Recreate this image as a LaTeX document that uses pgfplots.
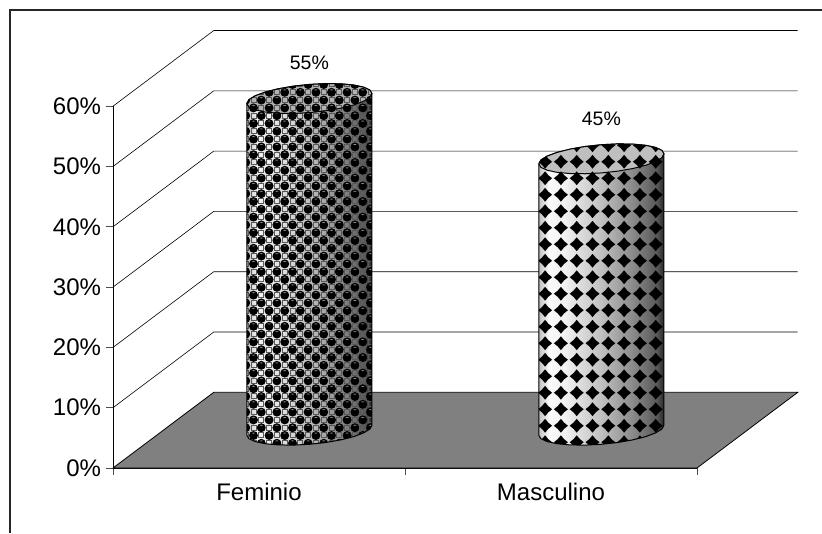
\documentclass[border=0pt]{standalone}
\usepackage{fontspec}
\setmainfont{Liberation Sans}
\usepackage{pgfplots}
\pgfplotsset{compat=1.18}
\usepackage{pgfplotstable}
\usetikzlibrary{patterns}

% Cylinder faces: horizontal lighting across the body
\pgfdeclarehorizontalshading{bodyF}{100bp}{
  color(0bp)=(black!25); color(25bp)=(black!25); color(29bp)=(black!5);
  color(35bp)=(black!8); color(50bp)=(black!25); color(62bp)=(black!45);
  color(72bp)=(black!65); color(75bp)=(black!85); color(100bp)=(black!85)}
\pgfdeclarehorizontalshading{bodyM}{100bp}{
  color(0bp)=(black!25); color(25bp)=(black!25); color(29bp)=(black!2);
  color(35bp)=(black!5); color(50bp)=(black!25); color(62bp)=(black!45);
  color(72bp)=(black!65); color(75bp)=(black!85); color(100bp)=(black!85)}

% Surface textures
\pgfdeclarepatternformonly{diamondtile}{\pgfqpoint{-0.5pt}{-0.5pt}}{\pgfqpoint{16.3pt}{17pt}}{\pgfqpoint{15.8pt}{16.5pt}}{
  \pgfpathmoveto{\pgfqpoint{0.9pt}{8.25pt}}
  \pgfpathcurveto{\pgfqpoint{3.6pt}{10pt}}{\pgfqpoint{6.2pt}{12.6pt}}{\pgfqpoint{7.9pt}{15.2pt}}
  \pgfpathcurveto{\pgfqpoint{9.6pt}{12.6pt}}{\pgfqpoint{12.2pt}{10pt}}{\pgfqpoint{14.9pt}{8.25pt}}
  \pgfpathcurveto{\pgfqpoint{12.2pt}{6.5pt}}{\pgfqpoint{9.6pt}{3.9pt}}{\pgfqpoint{7.9pt}{1.3pt}}
  \pgfpathcurveto{\pgfqpoint{6.2pt}{3.9pt}}{\pgfqpoint{3.6pt}{6.5pt}}{\pgfqpoint{0.9pt}{8.25pt}}
  \pgfpathclose\pgfusepath{fill}}
\pgfdeclarepatterninherentlycolored{balltile}{\pgfqpoint{-0.5pt}{-0.5pt}}{\pgfqpoint{16pt}{16pt}}{\pgfqpoint{15.6pt}{15.6pt}}{
  \pgfsetfillcolor{black}
  \pgfpathcircle{\pgfqpoint{3.9pt}{3.9pt}}{4.5pt}
  \pgfpathcircle{\pgfqpoint{11.7pt}{11.7pt}}{4.5pt}
  \pgfusepath{fill}
  \pgfsetfillcolor{black!45}
  \pgfpathellipse{\pgfqpoint{3.9pt}{6.3pt}}{\pgfqpoint{1.8pt}{0pt}}{\pgfqpoint{0pt}{0.55pt}}
  \pgfpathellipse{\pgfqpoint{11.7pt}{14.1pt}}{\pgfqpoint{1.8pt}{0pt}}{\pgfqpoint{0pt}{0.55pt}}
  \pgfusepath{fill}
  \pgfsetstrokecolor{black!65}
  \pgfsetlinewidth{1pt}
  \pgfpathrectangle{\pgfqpoint{9.2pt}{1.4pt}}{\pgfqpoint{5pt}{5pt}}
  \pgfpathrectangle{\pgfqpoint{1.4pt}{9.2pt}}{\pgfqpoint{5pt}{5pt}}
  \pgfusepath{stroke}}

% Unit outlines of a cylinder: dx across the axis, dy in percent, top selects base or rim
\pgfplotstableread{
dx dy top
0.2144 0.83 0
0.2071 0.196 0
0.1857 -0.451 0
0.1516 -1.068 0
0.1072 -1.611 0
0.0555 -2.045 0
0 -2.34 0
-0.0555 -2.475 0
-0.1072 -2.441 0
-0.1516 -2.241 0
-0.1857 -1.889 0
-0.2071 -1.407 0
-0.2144 -0.83 0
-0.2144 -0.83 1
-0.2071 -0.196 1
-0.1857 0.451 1
-0.1516 1.068 1
-0.1072 1.611 1
-0.0555 2.045 1
0 2.34 1
0.0555 2.475 1
0.1072 2.441 1
0.1516 2.241 1
0.1857 1.889 1
0.2071 1.407 1
0.2144 0.83 1
0.2144 0.83 0
}\cylbody
\pgfplotstableread{
dx dy
-0.2144 -0.83
-0.2071 -0.196
-0.1857 0.451
-0.1516 1.068
-0.1072 1.611
-0.0555 2.045
0 2.34
0.0555 2.475
0.1072 2.441
0.1516 2.241
0.1857 1.889
0.2071 1.407
0.2144 0.83
0.2071 0.196
0.1857 -0.451
0.1516 -1.068
0.1072 -1.611
0.0555 -2.045
0 -2.34
-0.0555 -2.475
-0.1072 -2.441
-0.1516 -2.241
-0.1857 -1.889
-0.2071 -1.407
-0.2144 -0.83
}\cylrim
\pgfplotstableread{
x d
0 0
0.345 12.55
2.345 12.55
}\wallline

% One cylinder: centre, value, body shading, texture, rim shade
\newcommand{\cylinder}[5]{
  \addplot[draw=none, shading=#3]
    table[x expr={#1+\thisrow{dx}}, y expr={6.27+\thisrow{top}*#2+\thisrow{dy}}] {\cylbody};
  \addplot[draw=none, #4]
    table[x expr={#1+\thisrow{dx}}, y expr={6.27+\thisrow{top}*#2+\thisrow{dy}}] {\cylbody};
  \addplot[draw=black, line width=1pt]
    table[x expr={#1+\thisrow{dx}}, y expr={6.27+\thisrow{top}*#2+\thisrow{dy}}] {\cylbody};
  \addplot[draw=none, fill=#5, postaction={#4}]
    table[x expr={#1+\thisrow{dx}}, y expr={6.27+#2+\thisrow{dy}}] {\cylrim};
  \addplot[draw=black, line width=1pt]
    table[x expr={#1+\thisrow{dx}}, y expr={6.27+#2+\thisrow{dy}}] {\cylrim};
}

\begin{document}
\begin{tikzpicture}
\path[use as bounding box] (-113pt,-65pt) rectangle (709pt,468pt);
\draw[black!85, line width=1.1pt] (-103pt,-65pt) -- (-103pt,458pt) -- (709pt,458pt);
\begin{axis}[
  x=292pt, y=6.03pt,
  xmin=0, xmax=2, ymin=0, ymax=60,
  clip=false,
  axis y line*=left, axis x line*=bottom,
  axis line style={black, line width=0.8pt},
  tick align=outside,
  major tick length=6.5pt,
  tick style={black!70, line width=0.8pt},
  xtick={0,1,2}, xticklabels={,,},
  extra x ticks={0.5,1.5},
  extra x tick labels={Feminio,Masculino},
  extra x tick style={major tick length=0pt},
  ytick={0,10,...,60},
  yticklabel={\pgfmathprintnumber{\tick}\%},
  /pgf/number format/assume math mode=true,
  tick label style={font=\fontsize{24}{28}\selectfont, black},
  yticklabel style={xshift=-2pt},
  xticklabel style={yshift=-12pt},
]
% back wall and side wall lines
\pgfplotsinvokeforeach{10,20,...,60}{
  \addplot[black, line width=0.6pt] table[x=x, y expr={#1+\thisrow{d}}] {\wallline};
}
% floor
\addplot[fill=black!50, draw=black, line width=0.8pt]
  coordinates {(0,0) (0.345,12.55) (2.345,12.55) (2,0) (0,0)};

\cylinder{0.6725}{55}{bodyF}{pattern=balltile}{black!30}
\cylinder{1.6725}{45}{bodyM}{pattern=diamondtile, pattern color=black}{black!25}

% percentage labels above the cylinders
\addplot[draw=none, point meta=explicit,
  nodes near coords={\pgfmathprintnumber{\pgfplotspointmeta}\%},
  every node near coord/.append style={anchor=center, font=\fontsize{19.5}{23}\selectfont, black}]
  coordinates {(0.6725,67.2) [55] (1.6725,57.9) [45]};
\end{axis}
\end{tikzpicture}
\end{document}
